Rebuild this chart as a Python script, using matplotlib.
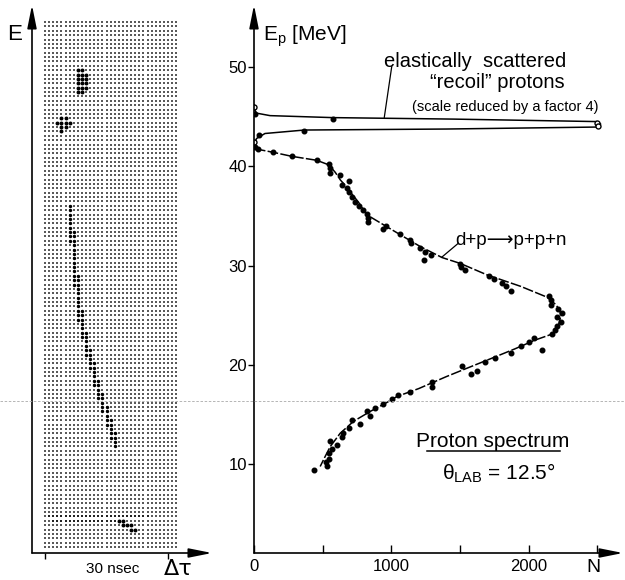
import matplotlib.pyplot as plt
import numpy as np
from matplotlib.lines import Line2D

plt.rcParams["font.family"] = ["Liberation Sans", "DejaVu Sans"]

# ---- left panel: printer display of E versus time difference ----
GRID_COLS = 33
GRID_ROWS = 121
# darkened cells of the proton track: (column, first row, last row)
TRACK_RUNS = [
    (6, 42, 50), (7, 48, 60), (8, 58, 68), (9, 66, 72), (10, 71, 76),
    (11, 75, 79), (12, 78, 83), (13, 82, 86), (14, 85, 89), (15, 88, 92),
    (16, 91, 95), (17, 94, 97),
]
# elastic peaks and the time-of-flight cluster near the bottom
BLOB_COL = [8, 9, 8, 9, 10, 8, 9, 10, 8, 9, 10, 8, 9, 10, 8, 9,
            4, 5, 3, 4, 5, 6, 4, 5, 4,
            18, 19, 19, 20, 21, 21, 22]
BLOB_ROW = [11, 11, 12, 12, 12, 13, 13, 13, 14, 14, 14, 15, 15, 15, 16, 16,
            22, 22, 23, 23, 23, 23, 24, 24, 25,
            114, 114, 115, 115, 115, 116, 116]
# darker printed band: (row, first column, last column)
BAND_RUNS = [(113, 1, 25), (114, 2, 17)]

# ---- right panel: proton spectrum ----
ELASTIC_N = [0, 4, 19, 117, 574, 1455, 2500, 2525, 2500, 1400, 367, 80, 19, 0, 7]
ELASTIC_E = [46.2, 45.7, 45.35, 45.1, 44.9, 44.75, 44.5, 44.25, 43.95, 43.75,
             43.65, 43.3, 42.8, 42.3, 41.8]
FIT_N = [7, 30, 141, 275, 457, 543, 591, 630, 676, 713, 760, 823, 968, 1212,
         1370, 1504, 1698, 1942, 2136, 2195, 2228, 2234, 2214, 2173, 2050,
         1900, 1740, 1560, 1400, 1200, 1041, 968, 847, 725, 628, 555, 518, 482]
FIT_E = [41.8, 41.7, 41.4, 41.0, 40.6, 40.15, 39.4, 38.6, 37.9, 37.2, 36.4,
         35.1, 33.9, 31.9, 30.8, 30.2, 29.05, 27.9, 26.8, 26.1, 25.5, 24.85,
         23.8, 23.1, 22.5, 21.6, 20.7, 19.7, 18.8, 17.6, 16.8, 16.2, 15.3,
         14.3, 13.1, 11.75, 10.75, 9.75]
POINTS_N = [7, 367, 39, 7, 30, 574, 141, 275, 457, 543, 555, 555, 623, 689,
            640, 676, 689, 713, 737, 762, 793, 823, 830, 827, 939, 964, 1066,
            1139, 1143, 1212, 1248, 1241, 1290, 1504, 1509, 1540, 1710, 1747,
            1803, 1839, 1874, 2148, 2160, 2166, 2214, 2246, 2204, 2234, 2204,
            2192, 2173, 2039, 2002, 1942, 2095, 1869, 1752, 1681, 1516, 1626,
            1582, 1297, 1297, 1139, 1049, 1005, 939, 878, 822, 842, 774, 713,
            689, 647, 640, 608, 555, 567, 543, 543, 526, 535, 440]
POINTS_E = [45.3, 43.6, 43.15, 41.9, 41.7, 44.8, 41.4, 41.0, 40.6, 40.2, 39.8,
            39.35, 39.1, 38.55, 38.1, 37.8, 37.4, 36.9, 36.4, 36.0, 35.6, 35.15,
            34.8, 34.4, 33.65, 34.0, 33.15, 32.6, 32.3, 31.8, 31.4, 30.6, 31.05,
            30.2, 29.8, 29.5, 28.95, 28.6, 28.2, 27.9, 27.4, 26.9, 26.5, 26.0,
            25.6, 25.25, 24.85, 24.35, 23.9, 23.55, 23.1, 22.7, 22.3, 21.9,
            21.5, 21.15, 20.65, 20.25, 19.9, 19.4, 19.05, 18.3, 17.8, 17.3,
            16.95, 16.5, 16.05, 15.6, 15.3, 14.8, 14.0, 14.4, 13.6, 13.15,
            12.75, 11.9, 12.35, 11.5, 11.1, 10.55, 10.2, 9.75, 9.4]
OPEN_N = [0, 2501, 2509, 2]
OPEN_E = [46.0, 44.4, 44.05, 42.4]
Y_TICKS = [10, 20, 30, 40, 50]
X_TICKS = [0, 500, 1000, 1500, 2000, 2500]
X_TICK_LABELS = ["0", "", "1000", "", "2000", ""]

W, H = 625, 580
ARROW = dict(arrowstyle="-|>,head_length=1.4,head_width=0.28", lw=1.2,
             color="k", shrinkA=0, shrinkB=0, mutation_scale=10)


def px_axes(x0, x1, y_top, y_bot):
    return [x0 / W, 1 - y_bot / H, (x1 - x0) / W, (y_bot - y_top) / H]


def axis_arrows(ax):
    for sp in ax.spines.values():
        sp.set_visible(False)
    ax.annotate("", xy=(0, 1), xytext=(0, 0), xycoords="axes fraction",
                arrowprops=ARROW, annotation_clip=False)
    ax.annotate("", xy=(1, 0), xytext=(0, 0), xycoords="axes fraction",
                arrowprops=ARROW, annotation_clip=False)


fig = plt.figure(figsize=(W / 100, H / 100), dpi=100)

# left panel
axl = fig.add_axes(px_axes(32, 212, 5, 553))
axis_arrows(axl)
gc, gr = np.meshgrid(np.arange(GRID_COLS), np.arange(GRID_ROWS))
axl.scatter(gc.ravel(), gr.ravel(), s=1.5, marker="s", color="#5a5a5a", lw=0)
band_c, band_r = [], []
for row, c0, c1 in BAND_RUNS:
    band_c += list(range(c0, c1 + 1))
    band_r += [row] * (c1 - c0 + 1)
axl.scatter(band_c, band_r, s=3.5, marker="s", color="#222222", lw=0)
tr_c, tr_r = [], []
for col, r0, r1 in TRACK_RUNS:
    tr_c += [col] * (r1 - r0 + 1)
    tr_r += list(range(r0, r1 + 1))
axl.scatter(tr_c, tr_r, s=6, marker="o", color="black", lw=0)
axl.scatter(BLOB_COL, BLOB_ROW, s=8, marker="o", color="black", lw=0)
axl.set_xlim((32 - 45) / 4.1, (212 - 45) / 4.1)
axl.set_ylim((553 - 22) / 4.375, (5 - 22) / 4.375)
axl.set_xticks([0, 30])
axl.set_xticklabels([])
axl.set_yticks([])
axl.tick_params(axis="x", direction="out", length=4, width=1)
fig.text(15 / W, 1 - 35 / H, "E", fontsize=16, ha="center", va="center")
fig.text(113 / W, 1 - 569 / H, "30 nsec", fontsize=11, ha="center", va="center")
fig.text(178 / W, 1 - 569 / H, "Δτ", fontsize=16, ha="center", va="center",
         family="DejaVu Sans")

# right panel
ax = fig.add_axes(px_axes(254, 623, 5, 553))
axis_arrows(ax)
ax.plot(ELASTIC_N, ELASTIC_E, color="black", lw=1.1)
ax.plot(FIT_N, FIT_E, color="black", lw=1.1, ls=(0, (7, 1.5)))
ax.plot(POINTS_N, POINTS_E, "o", color="black", ms=3.3, ls="none")
ax.plot(OPEN_N, OPEN_E, "o", mfc="white", mec="black", mew=1, ms=3.6, ls="none")
ax.set_xlim(0, (623 - 254) / 0.1373)
ax.set_ylim(50 - (553 - 67) / 9.925, 50 + 62 / 9.925)
ax.set_yticks(Y_TICKS)
ax.set_xticks(X_TICKS)
ax.set_xticklabels(X_TICK_LABELS)
ax.tick_params(axis="y", direction="out", length=4, width=1, pad=1, labelsize=12)
ax.tick_params(axis="x", direction="in", length=6, width=1, pad=4, labelsize=12)

ax.text(66, 52.7, r"E$_\mathregular{p}$ [MeV]", fontsize=15, va="baseline")
ax.text(1610, 50.0, "elastically  scattered", fontsize=14.5, ha="center",
        va="baseline")
ax.text(1770, 47.9, "\u201crecoil\u201d protons", fontsize=14.5, ha="center",
        va="baseline")
ax.text(1830, 45.57, "(scale reduced by a factor 4)", fontsize=10.5, ha="center",
        va="baseline")
ax.plot([1003, 949], [50.03, 44.93], color="black", lw=0.9)
ax.text(1875, 32.07, "d+p\u27f6p+p+n", fontsize=13.5, ha="center", va="baseline")
ax.plot([1488, 1367], [32.24, 30.83], color="black", lw=0.9)
ax.text(1741, 11.71, "Proton spectrum", fontsize=15, ha="center", va="baseline")
ax.plot([1260, 2229], [11.31, 11.31], color="black", lw=1.1)
ax.text(1785, 8.49, r"θ$_\mathregular{LAB}$ = 12.5°", fontsize=15, ha="center",
        va="baseline")
ax.text(2470, 1.03 - 1.5, "N", fontsize=14, ha="center", va="center")

# faint scanner line across the page
fig.add_artist(Line2D([0, 1], [1 - 401 / H] * 2, transform=fig.transFigure,
                      color="#aaaaaa", lw=0.6, ls=(0, (3, 2))))

fig.savefig("out.png", dpi=100)
